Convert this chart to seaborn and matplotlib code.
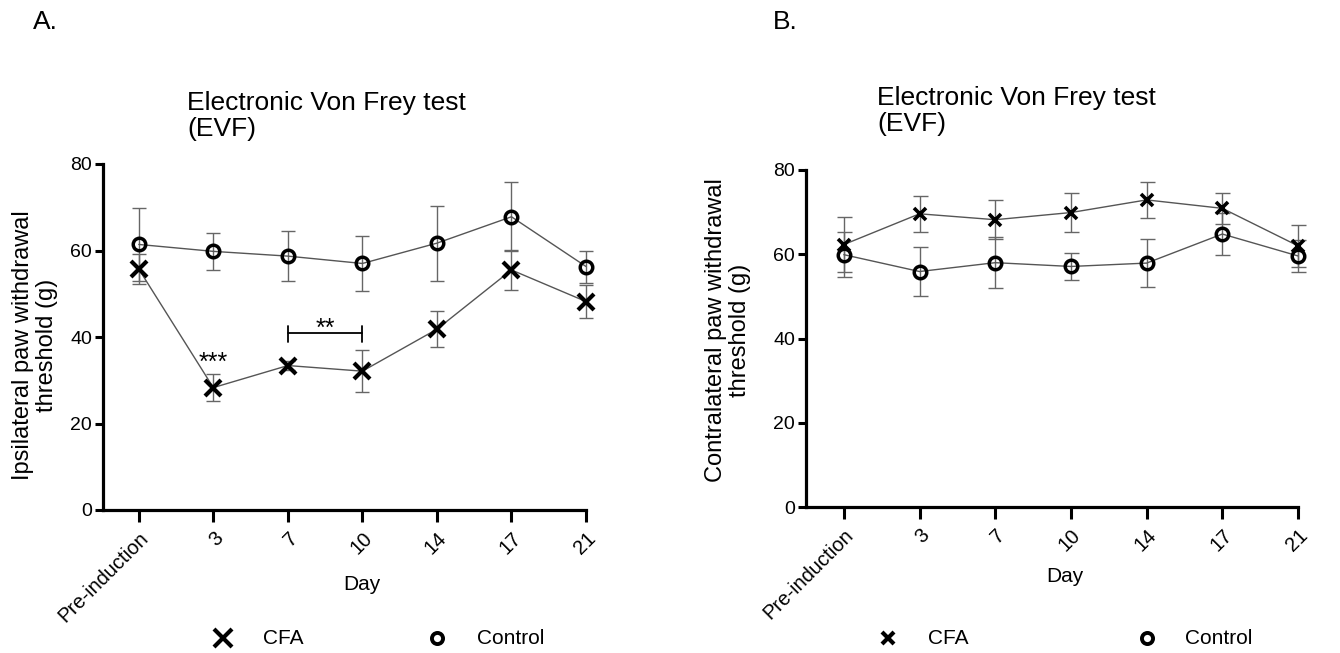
import numpy as np
import pandas as pd
import matplotlib
matplotlib.use("Agg")
import matplotlib.pyplot as plt
from matplotlib.lines import Line2D
import seaborn as sns

days = ["Pre-induction", "3", "7", "10", "14", "17", "21"]

# Panel A: ipsilateral
ipsi_cfa = [55.7, 28.3, 33.4, 32.1, 41.8, 55.5, 48.2]
ipsi_cfa_sem = [3.5, 3.2, 1.0, 4.9, 4.2, 4.6, 3.8]
ipsi_ctrl = [61.4, 59.8, 58.7, 57.0, 61.7, 67.8, 56.3]
ipsi_ctrl_sem = [8.5, 4.3, 5.8, 6.3, 8.7, 8.0, 3.7]

# Panel B: contralateral
contra_cfa = [62.3, 69.6, 68.2, 69.9, 72.9, 70.9, 62.0]
contra_cfa_sem = [6.6, 4.2, 4.6, 4.6, 4.3, 3.7, 5.0]
contra_ctrl = [59.9, 55.9, 58.0, 57.1, 57.9, 64.8, 59.6]
contra_ctrl_sem = [5.3, 5.8, 6.0, 3.2, 5.7, 5.0, 3.7]

groups = ["CFA", "Control"]

W, H = 1340, 653
sns.set_theme(style="ticks")
plt.rcParams["font.family"] = ["Liberation Sans", "DejaVu Sans"]
plt.rcParams["text.color"] = "black"
plt.rcParams["axes.labelcolor"] = "black"
plt.rcParams["xtick.color"] = "black"
plt.rcParams["ytick.color"] = "black"

fig = plt.figure(figsize=(W / 100, H / 100), dpi=100)
axA = fig.add_axes([103/W, 1-510/H, (586-103)/W, (510-164)/H])
axB = fig.add_axes([806/W, 1-507/H, (1298-806)/W, (507-170)/H])


def fx(px):
    return px / W


def fy(py):
    return 1 - py / H


def make_df(cfa, cfa_sem, ctrl, ctrl_sem):
    rows = []
    for i, d in enumerate(days):
        rows.append({"pos": i, "day": d, "group": "CFA", "value": cfa[i], "err": cfa_sem[i]})
        rows.append({"pos": i, "day": d, "group": "Control", "value": ctrl[i], "err": ctrl_sem[i]})
    return pd.DataFrame(rows)


def draw(ax, df, xsize, xmew, osize, capsize, xmin):
    for g in groups:
        sub = df[df["group"] == g]
        eb = ax.errorbar(sub["pos"], sub["value"], yerr=sub["err"], fmt="none", ecolor="#666666",
                         elinewidth=1.0, capsize=capsize, capthick=1.0, zorder=2)
        for art in list(eb.lines[1]) + list(eb.lines[2]):
            art.set_clip_on(False)
    sns.lineplot(data=df, x="pos", y="value", hue="group",
                 palette={"CFA": "#555555", "Control": "#555555"},
                 ax=ax, lw=1.0, legend=False, zorder=3, sort=True)
    sub = df[df["group"] == "CFA"]
    ax.plot(sub["pos"], sub["value"], ls="none", marker="x", ms=xsize, mew=xmew, color="black",
            zorder=4, clip_on=False)
    sub = df[df["group"] == "Control"]
    ax.plot(sub["pos"], sub["value"], ls="none", marker="o", ms=osize, mew=2.5, mfc="none",
            mec="black", zorder=4, clip_on=False)

    ax.set_xlim(xmin, 6)
    ax.set_ylim(0, 80)
    ax.set_yticks([0, 20, 40, 60, 80])
    ax.set_xticks(range(len(days)))
    ax.set_xticklabels(days, rotation=45, ha="right", rotation_mode="anchor", fontsize=14.5)
    ax.tick_params(axis="y", labelsize=14, width=2.2, length=6, pad=2, color="black")
    ax.tick_params(axis="x", width=2.2, length=8.5, pad=5, color="black")
    for s in ["left", "bottom"]:
        ax.spines[s].set_linewidth(2.3)
        ax.spines[s].set_color("black")
    sns.despine(ax=ax)
    ax.set_xlabel("")
    ax.set_ylabel("")


dfA = make_df(ipsi_cfa, ipsi_cfa_sem, ipsi_ctrl, ipsi_ctrl_sem)
dfB = make_df(contra_cfa, contra_cfa_sem, contra_ctrl, contra_ctrl_sem)
draw(axA, dfA, 11, 3.0, 9, 4.8, -0.48)
draw(axB, dfB, 8, 2.6, 9, 5.4, -0.5)

# significance annotations
axA.text(1, 32.3, "***", ha="center", va="baseline", fontsize=18)
axA.plot([2, 3], [41, 41], color="black", lw=1.3)
axA.plot([2, 2], [38.8, 42.5], color="black", lw=1.3)
axA.plot([3, 3], [38.8, 42.5], color="black", lw=1.3)
axA.text(2.5, 40.2, "**", ha="center", va="baseline", fontsize=18)

# axis labels
fig.text(fx(35), fy(345), "Ipsilateral paw withdrawal\nthreshold (g)", rotation=90,
         ha="center", va="center", fontsize=17, linespacing=1.1)
fig.text(fx(728), fy(330), "Contralateral paw withdrawal\nthreshold (g)", rotation=90,
         ha="center", va="center", fontsize=17, linespacing=1.1)
fig.text(fx(362), fy(585), "Day", ha="center", va="center", fontsize=15)
fig.text(fx(1065), fy(577), "Day", ha="center", va="center", fontsize=15)

# titles and panel labels
fig.text(fx(187), fy(116), "Electronic Von Frey test\n(EVF)", ha="left", va="center",
         fontsize=19, linespacing=1.15)
fig.text(fx(877), fy(111), "Electronic Von Frey test\n(EVF)", ha="left", va="center",
         fontsize=19, linespacing=1.15)
fig.text(fx(33), fy(22), "A.", ha="left", va="center", fontsize=19)
fig.text(fx(773), fy(22), "B.", ha="left", va="center", fontsize=19)

# legends (marker keys + labels)
legend_specs = [
    # (x marker center, x text, circle center, circle text, y, x size)
    (223, 263, 437, 477, 638, 13),
    (888, 928, 1147, 1185, 638, 8.5),
]
for xm, xt, om, ot, ly, xs in legend_specs:
    fig.add_artist(Line2D([fx(xm)], [fy(ly)], transform=fig.transFigure, ls="none",
                          marker="x", ms=xs, mew=3, color="black"))
    fig.add_artist(Line2D([fx(om)], [fy(ly)], transform=fig.transFigure, ls="none",
                          marker="o", ms=8, mew=2.8, mfc="none", mec="black"))
    fig.text(fx(xt), fy(ly), groups[0], ha="left", va="center", fontsize=15)
    fig.text(fx(ot), fy(ly), groups[1], ha="left", va="center", fontsize=15)

fig.savefig("out.png", dpi=100)
